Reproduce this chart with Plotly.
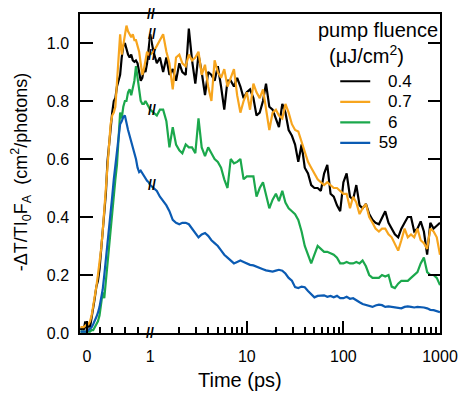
import plotly.graph_objects as go

# ---------------- data ----------------
t_lin = [-0.1, -0.075, -0.05, -0.025, 0.0, 0.025, 0.05, 0.075, 0.1, 0.125,
         0.15, 0.175, 0.2, 0.225, 0.25, 0.275, 0.3, 0.325, 0.35, 0.375,
         0.4, 0.425, 0.45, 0.475, 0.5, 0.525, 0.55, 0.575, 0.6, 0.625,
         0.65, 0.675, 0.7, 0.725, 0.75, 0.775, 0.8, 0.825, 0.85, 0.875,
         0.9, 0.925, 0.95, 0.975, 1.0]

t_log = [1.0, 1.08, 1.17, 1.26, 1.36, 1.47, 1.58, 1.71, 1.85, 2.0,
         2.15, 2.33, 2.51, 2.71, 2.93, 3.16, 3.41, 3.69, 3.98, 4.3,
         4.64, 5.01, 5.41, 5.84, 6.31, 6.81, 7.36, 7.94, 8.58, 9.26,
         10, 10.8, 11.7, 12.6, 13.6, 14.7, 15.8, 17.1, 18.5, 20,
         21.5, 23.3, 25.1, 27.1, 29.3, 31.6, 34.1, 36.9, 39.8, 43,
         46.4, 50.1, 54.1, 58.4, 63.1, 68.1, 73.6, 79.4, 85.8, 92.6,
         100, 108, 117, 126, 136, 147, 158, 171, 185, 200,
         215, 233, 251, 271, 293, 316, 341, 369, 398, 430,
         464, 501, 541, 584, 631, 681, 736, 794, 858, 926,
         1000]

f04_lin = [0.01, 0.02, 0.01, 0.04, 0.01, 0.03, 0.02, 0.05, 0.08, 0.12,
           0.16, 0.18, 0.22, 0.28, 0.34, 0.40, 0.48, 0.59, 0.65, 0.72,
           0.76, 0.80, 0.81, 0.85, 0.87, 0.89, 0.95, 0.99, 1.00, 0.98,
           0.96, 0.95, 0.96, 0.94, 0.935, 0.94, 0.93, 0.90, 0.87, 0.88,
           0.91, 0.90, 0.93, 0.98, 1.03]
f04_log = [1.03, 0.97, 0.93, 0.95, 0.90, 0.95, 0.89, 0.91, 0.87, 0.93,
           0.90, 0.89, 1.05, 0.94, 0.86, 0.96, 0.90, 0.82, 0.90, 0.89,
           0.87, 0.92, 0.85, 0.77, 0.87, 0.87, 0.85, 0.88, 0.85, 0.81,
           0.83, 0.84, 0.81, 0.75, 0.76, 0.80, 0.86, 0.78, 0.77, 0.74,
           0.71, 0.79, 0.76, 0.70, 0.68, 0.65, 0.59, 0.65, 0.57, 0.55,
           0.51, 0.50, 0.50, 0.49, 0.55, 0.58, 0.48, 0.47, 0.44, 0.42,
           0.52, 0.55, 0.47, 0.46, 0.51, 0.44, 0.43, 0.445, 0.41, 0.39,
           0.38, 0.375, 0.40, 0.42, 0.38, 0.36, 0.34, 0.33, 0.36, 0.38,
           0.40, 0.40, 0.35, 0.36, 0.385, 0.35, 0.27, 0.38, 0.36, 0.37,
           0.38]

f07_lin = [0.02, 0.02, 0.02, 0.025, 0.03, 0.03, 0.04, 0.06, 0.09, 0.12,
           0.16, 0.20, 0.24, 0.29, 0.35, 0.42, 0.48, 0.56, 0.64, 0.72,
           0.75, 0.76, 0.78, 0.86, 0.95, 1.03, 0.96, 0.99, 1.02, 1.06,
           1.04, 1.03, 1.02, 1.03, 1.01, 1.01, 0.99, 0.97, 0.93, 0.89,
           0.91, 0.94, 0.97, 0.96, 0.96]
f07_log = [0.96, 0.97, 0.99, 1.01, 1.03, 0.97, 0.93, 0.84, 0.95, 0.96,
           0.93, 0.92, 0.96, 0.94, 0.95, 0.97, 0.89, 0.925, 0.85, 0.80,
           0.94, 0.90, 0.88, 0.91, 0.85, 0.88, 0.91, 0.82, 0.76, 0.80,
           0.83, 0.77, 0.86, 0.83, 0.81, 0.84, 0.78, 0.70, 0.76, 0.77,
           0.75, 0.74, 0.79, 0.76, 0.72, 0.70, 0.695, 0.66, 0.63, 0.59,
           0.57, 0.55, 0.53, 0.52, 0.51, 0.52, 0.51, 0.50, 0.50, 0.49,
           0.48, 0.48, 0.43, 0.47, 0.45, 0.41, 0.43, 0.445, 0.40, 0.38,
           0.36, 0.35, 0.36, 0.36, 0.34, 0.33, 0.31, 0.284, 0.32, 0.36,
           0.33, 0.34, 0.33, 0.36, 0.32, 0.31, 0.29, 0.36, 0.35, 0.33,
           0.27]

f6_lin = [0.005, 0.005, 0.005, 0.005, 0.005, 0.005, 0.005, 0.01, 0.01, 0.02,
          0.03, 0.04, 0.06, 0.10, 0.14, 0.12, 0.18, 0.24, 0.31, 0.37,
          0.42, 0.48, 0.53, 0.58, 0.68, 0.76, 0.74, 0.78, 0.80, 0.80,
          0.83, 0.84, 0.82, 0.85, 0.87, 0.92, 0.88, 0.83, 0.80, 0.79,
          0.79, 0.80, 0.79, 0.78, 0.77]
f6_log = [0.77, 0.76, 0.75, 0.77, 0.77, 0.73, 0.64, 0.71, 0.65, 0.63,
          0.62, 0.65, 0.64, 0.64, 0.62, 0.74, 0.64, 0.61, 0.64, 0.62,
          0.60, 0.59, 0.57, 0.53, 0.50, 0.60, 0.585, 0.59, 0.60, 0.53,
          0.54, 0.54, 0.54, 0.47, 0.50, 0.52, 0.48, 0.43, 0.46, 0.48,
          0.455, 0.49, 0.45, 0.43, 0.42, 0.41, 0.39, 0.35, 0.30, 0.27,
          0.24, 0.27, 0.30, 0.29, 0.28, 0.28, 0.275, 0.27, 0.26, 0.24,
          0.24, 0.245, 0.24, 0.24, 0.245, 0.24, 0.25, 0.23, 0.20, 0.19,
          0.19, 0.19, 0.20, 0.195, 0.20, 0.16, 0.155, 0.17, 0.18, 0.18,
          0.18, 0.19, 0.20, 0.21, 0.24, 0.26, 0.21, 0.20, 0.20, 0.19,
          0.165]

f59_lin = [0.005, 0.005, 0.005, 0.005, 0.005, 0.01, 0.015, 0.02, 0.03, 0.04,
           0.055, 0.07, 0.09, 0.12, 0.15, 0.20, 0.25, 0.31, 0.36, 0.42,
           0.47, 0.53, 0.58, 0.64, 0.69, 0.72, 0.73, 0.745, 0.75, 0.72,
           0.70, 0.68, 0.66, 0.64, 0.62, 0.60, 0.57, 0.555, 0.56, 0.55,
           0.54, 0.53, 0.525, 0.52, 0.51]
f59_log = [0.51, 0.50, 0.49, 0.47, 0.455, 0.44, 0.42, 0.39, 0.38, 0.375,
           0.38, 0.38, 0.375, 0.36, 0.345, 0.33, 0.34, 0.345, 0.335, 0.32,
           0.31, 0.30, 0.285, 0.27, 0.26, 0.25, 0.24, 0.245, 0.25, 0.245,
           0.24, 0.235, 0.233, 0.228, 0.225, 0.22, 0.216, 0.215, 0.212, 0.215,
           0.218, 0.215, 0.205, 0.19, 0.18, 0.158, 0.155, 0.16, 0.158, 0.145,
           0.135, 0.123, 0.128, 0.13, 0.13, 0.125, 0.128, 0.123, 0.128, 0.12,
           0.12, 0.125, 0.118, 0.12, 0.112, 0.106, 0.10, 0.097, 0.092, 0.09,
           0.095, 0.098, 0.096, 0.09, 0.092, 0.09, 0.087, 0.085, 0.085, 0.09,
           0.092, 0.09, 0.088, 0.09, 0.09, 0.088, 0.085, 0.08, 0.079, 0.075,
           0.072]

legend_labels = ["0.4", "0.7", "6", "59"]
y_ticks = [0.0, 0.2, 0.4, 0.6, 0.8, 1.0]
y_ticktext = ["0.0", "0.2", "0.4", "0.6", "0.8", "1.0"]
x_lin_ticks = [0]
x_lin_minor = [0.2, 0.4, 0.6, 0.8]
x_log_ticks = [1, 10, 100, 1000]
x_log_minor = [2, 3, 4, 5, 6, 7, 8, 9, 20, 30, 40, 50, 60, 70, 80, 90,
               200, 300, 400, 500, 600, 700, 800, 900]

# ---------------- style ----------------
FONT = "Liberation Sans, Arial, sans-serif"
colors = ["#000000", "#F7A51E", "#1BA84C", "#0B5BB3"]
series = [(f04_lin, f04_log), (f07_lin, f07_log), (f6_lin, f6_log), (f59_lin, f59_log)]
pads = ["\u2007\u2009", "\u2007\u2009", "\u2007\u2009", "\u2009"]
legend_text = ["<span style='font-size:17px'>%s%s</span>" % (p, lab)
               for p, lab in zip(pads, legend_labels)]

fig = go.Figure()
for (ylin, ylog), c, lab in zip(series, colors, legend_text):
    fig.add_trace(go.Scatter(x=t_lin, y=ylin, mode="lines", name=lab,
                             line=dict(color=c, width=2.2), legendgroup=lab,
                             xaxis="x", yaxis="y"))
    fig.add_trace(go.Scatter(x=t_log, y=ylog, mode="lines", name=lab,
                             line=dict(color=c, width=2.2), legendgroup=lab,
                             showlegend=False, xaxis="x2", yaxis="y2"))

split = 0.1951
common_axis = dict(showline=True, linecolor="black", linewidth=1.5,
                   showgrid=False, zeroline=False, ticks="inside",
                   tickcolor="black", tickwidth=1.5,
                   tickfont=dict(family=FONT, size=16, color="black"))

fig.update_layout(
    width=470, height=394,
    margin=dict(l=80, r=21, t=12, b=61),
    paper_bgcolor="white", plot_bgcolor="white",
    font=dict(family=FONT, size=16, color="black"),
    xaxis=dict(domain=[0, split], range=[-0.108, 1.0], anchor="y", mirror=True,
               tickvals=x_lin_ticks, ticktext=[str(v) for v in x_lin_ticks],
               ticklen=12, ticklabelstandoff=8,
               minor=dict(tickvals=x_lin_minor, ticks="inside", ticklen=6,
                          tickcolor="black", tickwidth=1.5),
               **common_axis),
    xaxis2=dict(domain=[split, 1], type="log", range=[0, 3], anchor="y2", mirror=True,
                tickvals=x_log_ticks, ticktext=[str(v) for v in x_log_ticks],
                ticklen=12, ticklabelstandoff=8,
                minor=dict(tickvals=x_log_minor, ticks="inside", ticklen=6,
                           tickcolor="black", tickwidth=1.5),
                **common_axis),
    yaxis=dict(domain=[0, 1], range=[0, 1.1], anchor="x", side="left",
               tickvals=y_ticks, ticktext=y_ticktext, ticklen=13,
               ticklabelstandoff=6, **common_axis),
    yaxis2=dict(domain=[0, 1], range=[0, 1.1], anchor="x2", side="right",
                tickvals=y_ticks, showticklabels=False, ticklen=12,
                **common_axis),
    legend=dict(x=0.709, y=0.837, xanchor="left", yanchor="top",
                bgcolor="rgba(0,0,0,0)", font=dict(family=FONT, size=13.5),
                tracegroupgap=0, itemwidth=30),
    showlegend=True,
)

# y-axis title
fig.add_annotation(text="-ΔT/TI<sub>0</sub>F<sub>A</sub>\u00a0\u00a0(cm<sup>2</sup>/photons)",
                   xref="paper", yref="paper", x=-0.163, y=0.505, textangle=-90,
                   xanchor="center", yanchor="middle", showarrow=False,
                   font=dict(family=FONT, size=18))
# x-axis title spanning both segments
fig.add_annotation(text="Time (ps)", xref="paper", yref="paper", x=0.445, y=-0.187,
                   xanchor="center", yanchor="bottom", showarrow=False,
                   font=dict(family=FONT, size=20))
# legend title
fig.add_annotation(text="pump fluence<br>\u00a0\u00a0(μJ/cm<sup>2</sup>)", xref="paper", yref="paper",
                   x=1.0, y=0.99, xanchor="right", yanchor="top", showarrow=False,
                   align="left", font=dict(family=FONT, size=20))

# axis-break marks
brk = dict(showarrow=False, text="<b>//</b>", yanchor="middle", xanchor="center",
           font=dict(family=FONT, size=14, color="black"))
fig.add_annotation(xref="x2", yref="paper", x=0.01, y=1.0, **brk)
fig.add_annotation(xref="x2", yref="paper", x=0.0, y=0.0, **brk)
for ylin, ylog in series:
    fig.add_annotation(xref="x2", yref="y2", x=0.02, y=ylog[0], **brk)

fig.write_html("out.html", config={"displayModeBar": False})
